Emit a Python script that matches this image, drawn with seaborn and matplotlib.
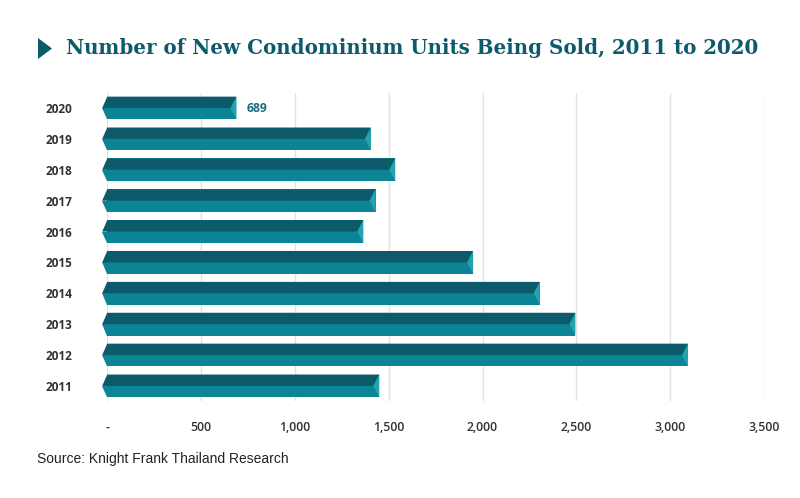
import matplotlib
matplotlib.use("Agg")
import matplotlib.pyplot as plt
from matplotlib.patches import Polygon
import seaborn as sns
import pandas as pd

years = ["2011", "2012", "2013", "2014", "2015", "2016", "2017", "2018", "2019", "2020"]
units = [1450, 3095, 2495, 2305, 1950, 1365, 1430, 1535, 1405, 689]
x_ticks = [0, 500, 1000, 1500, 2000, 2500, 3000, 3500]
x_tick_labels = ["-", "500", "1,000", "1,500", "2,000", "2,500", "3,000", "3,500"]
label_year = "2020"
title = "Number of New Condominium Units Being Sold, 2011 to 2020"
source = "Source: Knight Frank Thailand Research"

DARK = "#0d5a6b"
LIGHT = "#0b8496"
BEVEL = "#22a3ad"
TEXT = "#333333"

sns.set_theme(style="white")
plt.rcParams["font.family"] = ["Open Sans", "DejaVu Sans"]

df = pd.DataFrame({"year": years, "units": units})
order = years[::-1]

fig = plt.figure(figsize=(8.0, 4.98), dpi=100)
ax = fig.add_axes([0.134, 0.194, 0.821, 0.62])

sns.barplot(data=df, x="units", y="year", order=order, orient="h",
            color=LIGHT, width=0.74, saturation=1, ax=ax, zorder=3,
            linewidth=0)

ax.set_xlim(0, 3500)
ax.set_ylim(len(order) - 0.5, -0.5)
ax.set_xticks(x_ticks)
ax.set_xticklabels(x_tick_labels, fontsize=8.8, color=TEXT, fontweight="semibold")
ax.tick_params(axis="x", length=0, pad=14)
ax.tick_params(axis="y", length=0, pad=25)
for lbl in ax.get_yticklabels():
    lbl.set_fontsize(8.5)
    lbl.set_fontweight("bold")
    lbl.set_color(TEXT)
ax.set_xlabel("")
ax.set_ylabel("")
ax.grid(axis="x", color="#e2e2e2", linewidth=1, zorder=0)
ax.set_axisbelow(True)
for s in ax.spines.values():
    s.set_visible(False)

# 3D-style decoration derived from each bar patch
px_per_unit = 3500 / (0.821 * 800)
tip = 5 * px_per_unit
bev = 6 * px_per_unit
for p in list(ax.patches):
    x0, y0 = p.get_x(), p.get_y()
    w, h = p.get_width(), p.get_height()
    x1 = x0 + w
    ymid = y0 + h / 2
    ytop, ybot = y0, y0 + h  # y axis inverted: y0 is visual top
    # left chevron (lower half light)
    ax.add_patch(Polygon([(x0 - tip, ymid), (x0 + 0.5 * px_per_unit, ymid),
                          (x0 + 0.5 * px_per_unit, ybot), (x0, ybot)],
                         closed=True, facecolor=LIGHT, edgecolor="none",
                         zorder=3, clip_on=False))
    # dark upper half including chevron
    ax.add_patch(Polygon([(x0 - tip, ymid), (x0, ytop), (x1, ytop),
                          (x1 - bev, ymid)],
                         closed=True, facecolor=DARK, edgecolor="none",
                         zorder=4, clip_on=False))
    # right bevel
    ax.add_patch(Polygon([(x1, ytop), (x1, ybot), (x1 - bev, ymid)],
                         closed=True, facecolor=BEVEL, edgecolor="none",
                         zorder=4, clip_on=False))

# value label for 2020
i = order.index(label_year)
v = units[years.index(label_year)]
ax.text(v + 55, i, f"{v:,}", va="center", ha="left", fontsize=8.8,
        fontweight="bold", color="#1a6a7c", zorder=5)

# title with triangle marker
fig.patches.append(Polygon([(38 / 800, 1 - 38 / 498), (38 / 800, 1 - 59 / 498),
                            (52 / 800, 1 - 48.5 / 498)], closed=True,
                           transform=fig.transFigure, facecolor=DARK,
                           edgecolor="none"))
fig.text(66 / 800, 1 - 48 / 498, title, ha="left", va="center",
         fontsize=14.3, fontweight="bold", color=DARK,
         family=["DejaVu Serif"])

fig.text(37 / 800, 1 - 459 / 498, source, ha="left", va="center",
         fontsize=10, color="#222222", family=["Liberation Sans", "DejaVu Sans"])

fig.savefig("out.png", dpi=100, facecolor="white")
